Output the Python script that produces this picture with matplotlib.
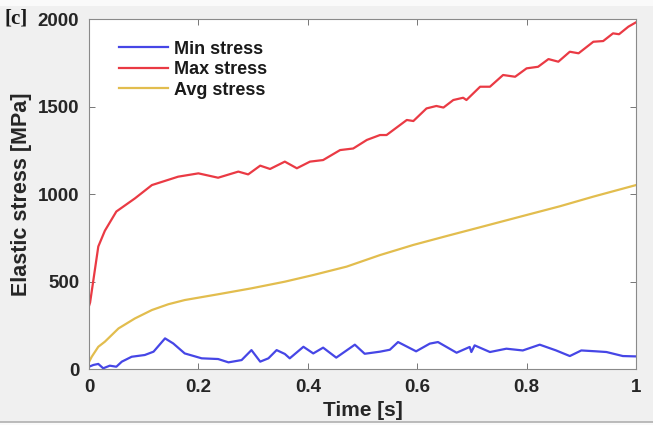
import matplotlib
matplotlib.use("Agg")
import matplotlib.pyplot as plt
from matplotlib.patches import Rectangle
from matplotlib.lines import Line2D

# ---- data ----
t_max = [0.0, 0.002, 0.017, 0.029, 0.05, 0.084, 0.115, 0.163, 0.2, 0.236, 0.273, 0.291,
         0.313, 0.331, 0.358, 0.38, 0.404, 0.428, 0.459, 0.483, 0.508, 0.532, 0.544,
         0.581, 0.593, 0.617, 0.635, 0.648, 0.666, 0.684, 0.69, 0.715, 0.733, 0.757,
         0.779, 0.8, 0.821, 0.84, 0.858, 0.879, 0.895, 0.922, 0.94, 0.958, 0.969,
         0.986, 1.0]
v_max = [360, 380, 700, 790, 900, 975, 1051, 1099, 1118, 1093, 1128, 1112,
         1162, 1143, 1185, 1147, 1185, 1194, 1251, 1260, 1309, 1337, 1337,
         1423, 1417, 1489, 1503, 1494, 1537, 1550, 1537, 1613, 1613, 1680,
         1670, 1718, 1727, 1771, 1756, 1813, 1804, 1870, 1874, 1918, 1913,
         1956, 1981]

t_avg = [0.0, 0.005, 0.017, 0.029, 0.054, 0.084, 0.115, 0.145, 0.175, 0.236, 0.297,
         0.358, 0.41, 0.471, 0.532, 0.593, 0.654, 0.715, 0.8, 0.861, 0.922, 1.0]
v_avg = [40, 70, 127, 156, 232, 289, 337, 370, 394, 427, 461,
         499, 537, 585, 651, 709, 760, 810, 880, 930, 985, 1051]

t_min = [0.0, 0.008, 0.017, 0.026, 0.038, 0.05, 0.06, 0.078, 0.102, 0.118, 0.139,
         0.154, 0.175, 0.206, 0.236, 0.255, 0.279, 0.297, 0.313, 0.328, 0.343,
         0.358, 0.367, 0.392, 0.41, 0.428, 0.452, 0.486, 0.504, 0.532, 0.55,
         0.565, 0.598, 0.623, 0.638, 0.672, 0.696, 0.699, 0.705, 0.733, 0.763,
         0.793, 0.824, 0.854, 0.879, 0.9, 0.927, 0.946, 0.976, 1.0]
v_min = [13, 23, 29, 4, 19, 13, 42, 70, 80, 99, 175,
         146, 89, 61, 57, 38, 51, 108, 42, 61, 108,
         86, 61, 127, 89, 122, 65, 139, 87, 99, 110,
         154, 101, 145, 154, 93, 126, 97, 135, 97, 116,
         106, 139, 106, 74, 106, 101, 97, 74, 72]

labels = ["Min stress", "Max stress", "Avg stress"]
xticks = [0, 0.2, 0.4, 0.6, 0.8, 1]
xticklabels = ["0", "0.2", "0.4", "0.6", "0.8", "1"]
yticks = [0, 500, 1000, 1500, 2000]

# ---- figure ----
W, H = 653, 425
fig = plt.figure(figsize=(W / 100, H / 100), dpi=100, facecolor="#f0f0f0")

# light top strip and bottom border like the screenshot
fig.patches.append(Rectangle((0, 1 - 6 / H), 1, 6 / H, transform=fig.transFigure,
                             facecolor="#fafafa", edgecolor="none", zorder=0))
fig.patches.append(Rectangle((0, 0), 1, 3 / H, transform=fig.transFigure,
                             facecolor="#fafafa", edgecolor="none", zorder=0))
fig.lines.append(Line2D([0, 1], [3.5 / H, 3.5 / H], transform=fig.transFigure,
                        color="#b0b0b0", lw=1.2))

ax = fig.add_axes([89 / W, 1 - 369 / H, (636 - 89) / W, (369 - 19) / H])
ax.set_facecolor("white")

ax.plot(t_min, v_min, color="#4646e6", lw=1.6, label=labels[0])
ax.plot(t_max, v_max, color="#ea3a44", lw=1.6, label=labels[1])
ax.plot(t_avg, v_avg, color="#e2bd4e", lw=1.6, label=labels[2])

ax.set_xlim(0, 1)
ax.set_ylim(0, 2000)
ax.set_xticks(xticks)
ax.set_xticklabels(xticklabels)
ax.set_yticks(yticks)

for lab in ax.get_xticklabels() + ax.get_yticklabels():
    lab.set_fontfamily("Liberation Sans")
    lab.set_fontweight("bold")
    lab.set_fontsize(13.5)
    lab.set_color("#262626")

ax.tick_params(direction="in", top=True, right=True, length=4, width=0.6,
               color="#606060")
ax.tick_params(axis="x", pad=7)
ax.tick_params(axis="y", pad=7)
for s in ax.spines.values():
    s.set_color("#8a8a8a")
    s.set_linewidth(0.8)

font = dict(family="Liberation Sans", weight="bold")
ax.set_xlabel("Time [s]", fontsize=15, color="#262626", labelpad=4, **font)
ax.set_ylabel("Elastic stress [MPa]", fontsize=15.5, color="#262626", labelpad=4, **font)

leg = ax.legend(loc="upper left", bbox_to_anchor=(0.026, 0.985), frameon=False,
                handlelength=2.7, handletextpad=0.3, labelspacing=0.2,
                prop=dict(family="Liberation Sans", weight="bold", size=13))
for txt in leg.get_texts():
    txt.set_color("#1a1a1a")

fig.text(5 / W, 1 - 18 / H, "[c]", family="Liberation Serif", weight="bold",
         fontsize=15, color="#1a1a1a", va="center", ha="left")

fig.savefig("out.png", dpi=100, facecolor=fig.get_facecolor())
